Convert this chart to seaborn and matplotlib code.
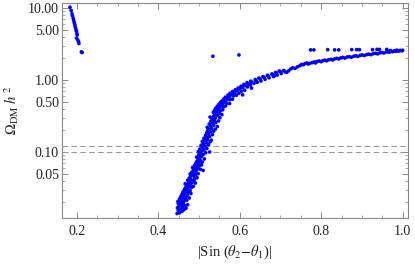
import numpy as np
import pandas as pd
import matplotlib
matplotlib.use("Agg")
import matplotlib.pyplot as plt
import matplotlib.ticker as mticker
import seaborn as sns

# ---- data ----
x_top = [0.183, 0.186, 0.188, 0.189, 0.191, 0.192, 0.193, 0.194, 0.195, 0.196, 0.197,
         0.198, 0.199, 0.200, 0.201, 0.199, 0.202, 0.204, 0.205, 0.211, 0.213]
y_top = [10.2, 9.2, 8.3, 7.8, 7.2, 6.8, 6.4, 6.1, 5.8, 5.4, 5.2,
         4.9, 4.7, 4.4, 4.2, 3.8, 3.6, 3.4, 3.2, 2.45, 2.40]

x_iso = [0.534, 0.598, 0.774, 0.782, 0.816, 0.833, 0.843, 0.875, 0.887, 0.894, 0.926, 0.937, 0.943, 0.961]
y_iso = [2.13, 2.22, 2.61, 2.61, 2.63, 2.61, 2.61, 2.63, 2.63, 2.63, 2.63, 2.65, 2.65, 2.65]

band_pts = [
    # y 0.013 - 0.02
    (0.446, 0.0140), (0.452, 0.0143), (0.458, 0.0150), (0.449, 0.0155), (0.455, 0.0162), (0.463, 0.0158),
    (0.447, 0.0168), (0.460, 0.0172), (0.468, 0.0166), (0.451, 0.0178), (0.457, 0.0183), (0.465, 0.0180),
    (0.472, 0.0185), (0.449, 0.0192), (0.454, 0.0198), (0.461, 0.0195),
    # y 0.02 - 0.03
    (0.448, 0.0205), (0.456, 0.0212), (0.463, 0.0208), (0.470, 0.0215), (0.452, 0.0222), (0.459, 0.0228),
    (0.466, 0.0224), (0.476, 0.0230), (0.455, 0.0240), (0.461, 0.0247), (0.469, 0.0243), (0.458, 0.0258),
    (0.464, 0.0262), (0.472, 0.0255), (0.480, 0.0265), (0.460, 0.0275), (0.467, 0.0282), (0.474, 0.0278),
    (0.463, 0.0292), (0.470, 0.0298), (0.478, 0.0290),
    # y 0.03 - 0.045
    (0.465, 0.0308), (0.472, 0.0315), (0.481, 0.0322), (0.468, 0.0330), (0.476, 0.0338), (0.486, 0.0333),
    (0.471, 0.0350), (0.479, 0.0358), (0.466, 0.0362), (0.474, 0.0372), (0.483, 0.0378), (0.491, 0.0370),
    (0.477, 0.0390), (0.486, 0.0398), (0.472, 0.0405), (0.480, 0.0415), (0.489, 0.0420), (0.476, 0.0432),
    (0.495, 0.0440),
    # y 0.045 - 0.07
    (0.479, 0.0455), (0.487, 0.0462), (0.483, 0.0478), (0.492, 0.0485), (0.478, 0.0495), (0.486, 0.0505),
    (0.498, 0.0500), (0.482, 0.0520), (0.490, 0.0530), (0.510, 0.0555), (0.485, 0.0545), (0.494, 0.0560),
    (0.488, 0.0580), (0.496, 0.0592), (0.503, 0.0575), (0.484, 0.0610), (0.492, 0.0625), (0.500, 0.0640),
    (0.489, 0.0655), (0.497, 0.0668), (0.506, 0.0660),
    # y 0.07 - 0.1
    (0.492, 0.0700), (0.500, 0.0715), (0.508, 0.0725), (0.495, 0.0745), (0.503, 0.0760), (0.498, 0.0790),
    (0.513, 0.0800), (0.502, 0.0830), (0.494, 0.0850), (0.506, 0.0870), (0.499, 0.0905), (0.510, 0.0920),
    (0.503, 0.0960), (0.516, 0.0975),
    # y 0.1 - 0.2
    (0.498, 0.1010), (0.507, 0.1030), (0.526, 0.1000), (0.512, 0.1070), (0.502, 0.1100), (0.519, 0.1120),
    (0.509, 0.1160), (0.515, 0.1210), (0.505, 0.1240), (0.523, 0.1260), (0.511, 0.1300), (0.518, 0.1350),
    (0.527, 0.1380), (0.508, 0.1400), (0.514, 0.1450), (0.521, 0.1490), (0.530, 0.1460), (0.512, 0.1550),
    (0.519, 0.1600), (0.526, 0.1640), (0.516, 0.1700), (0.523, 0.1760), (0.533, 0.1740), (0.519, 0.1840),
    (0.528, 0.1900), (0.521, 0.1960), (0.536, 0.1950),
    # y 0.2 - 0.35
    (0.524, 0.205), (0.531, 0.212), (0.540, 0.208), (0.520, 0.220), (0.528, 0.228), (0.536, 0.235),
    (0.545, 0.226), (0.525, 0.245), (0.533, 0.252), (0.541, 0.258), (0.529, 0.268), (0.537, 0.275),
    (0.548, 0.270), (0.532, 0.288), (0.540, 0.295), (0.551, 0.300), (0.527, 0.305), (0.536, 0.315),
    (0.545, 0.322), (0.539, 0.335), (0.549, 0.342), (0.556, 0.330),
    # y 0.35 - 0.5
    (0.535, 0.355), (0.543, 0.362), (0.552, 0.370), (0.538, 0.380), (0.547, 0.390), (0.558, 0.385),
    (0.541, 0.405), (0.551, 0.412), (0.560, 0.420), (0.545, 0.432), (0.555, 0.440), (0.565, 0.435),
    (0.549, 0.458), (0.558, 0.468), (0.568, 0.475), (0.553, 0.488), (0.562, 0.495), (0.575, 0.470),
    # y 0.5 - 0.75
    (0.556, 0.510), (0.566, 0.520), (0.575, 0.530), (0.561, 0.545), (0.570, 0.555), (0.582, 0.540),
    (0.565, 0.575), (0.575, 0.590), (0.585, 0.600), (0.571, 0.615), (0.580, 0.625), (0.592, 0.615),
    (0.576, 0.650), (0.587, 0.665), (0.598, 0.655), (0.582, 0.690), (0.593, 0.705), (0.604, 0.695),
    (0.589, 0.730), (0.600, 0.745), (0.612, 0.720), (0.607, 0.620), (0.629, 0.770),
    # y 0.75 - 1.0
    (0.596, 0.770), (0.607, 0.785), (0.619, 0.800), (0.603, 0.815), (0.614, 0.835), (0.626, 0.850),
    (0.610, 0.865), (0.622, 0.880), (0.635, 0.895), (0.618, 0.915), (0.630, 0.930), (0.643, 0.925),
    (0.627, 0.960), (0.640, 0.980), (0.652, 0.965),
    # y 1.0 - 1.45
    (0.638, 1.010), (0.650, 1.030), (0.662, 1.020), (0.647, 1.060), (0.660, 1.080), (0.672, 1.070),
    (0.657, 1.110), (0.670, 1.130), (0.683, 1.115), (0.668, 1.160), (0.680, 1.180), (0.692, 1.170),
    (0.679, 1.210), (0.690, 1.240), (0.702, 1.225), (0.688, 1.270), (0.700, 1.300), (0.712, 1.285),
    (0.697, 1.330), (0.708, 1.350), (0.720, 1.335), (0.685, 1.150), (0.715, 1.270),
    # thin band 0.72 - 1.0
    (0.725, 1.42), (0.730, 1.47), (0.736, 1.45), (0.742, 1.52), (0.748, 1.58), (0.752, 1.64),
    (0.756, 1.62), (0.760, 1.68), (0.765, 1.72), (0.768, 1.66), (0.772, 1.70), (0.778, 1.74),
    (0.783, 1.78), (0.786, 1.72), (0.790, 1.80), (0.795, 1.83), (0.800, 1.79), (0.804, 1.85),
    (0.809, 1.88), (0.813, 1.84), (0.818, 1.90), (0.824, 1.93), (0.828, 1.89), (0.833, 1.96),
    (0.838, 1.99), (0.843, 1.95), (0.848, 2.02), (0.853, 2.05), (0.858, 2.01), (0.864, 2.08),
    (0.869, 2.10), (0.874, 2.06), (0.880, 2.13), (0.885, 2.16), (0.890, 2.12), (0.896, 2.19),
    (0.901, 2.22), (0.906, 2.18), (0.912, 2.25), (0.917, 2.28), (0.922, 2.24), (0.928, 2.31),
    (0.933, 2.34), (0.938, 2.30), (0.944, 2.37), (0.949, 2.40), (0.954, 2.36), (0.960, 2.44),
    (0.963, 2.48), (0.967, 2.42), (0.971, 2.50), (0.975, 2.46), (0.979, 2.53), (0.983, 2.49),
    (0.987, 2.55), (0.990, 2.51), (0.994, 2.57), (0.998, 2.53), (1.000, 2.58), (0.970, 2.56),
    (0.985, 2.58),
]
x_band = [p[0] for p in band_pts]
y_band = [p[1] for p in band_pts]

relic_lines = [0.10, 0.12]
x_ticks = [0.2, 0.4, 0.6, 0.8, 1.0]
x_ticklabels = ["0.2", "0.4", "0.6", "0.8", "1.0"]
y_ticks = [0.05, 0.10, 0.50, 1.00, 5.00, 10.00]
y_ticklabels = ["0.05", "0.10", "0.50", "1.00", "5.00", "10.00"]

df = pd.DataFrame({
    "x": x_top + x_iso + x_band,
    "y": y_top + y_iso + y_band,
})

sns.set_style("ticks")
plt.rcParams["font.family"] = ["Liberation Serif", "DejaVu Serif"]
plt.rcParams["mathtext.fontset"] = "stix"

fig = plt.figure(figsize=(4.15, 2.65), dpi=100)
ax = fig.add_axes([0.149, 0.177, 0.834, 0.812])

for v in relic_lines:
    ax.axhline(v, color="#999999", lw=0.8, ls=(0, (5, 3)), zorder=1)

sns.scatterplot(data=df, x="x", y="y", ax=ax, color="#0000ff", s=7,
                linewidth=0, edgecolor="none", zorder=3, legend=False)

ax.set_yscale("log")
ax.set_xlim(0.163, 1.013)
ax.set_ylim(0.0121, 11.7)

ax.xaxis.set_major_locator(mticker.FixedLocator(x_ticks))
ax.xaxis.set_major_formatter(mticker.FixedFormatter(x_ticklabels))
ax.xaxis.set_minor_locator(mticker.MultipleLocator(0.05))
ax.yaxis.set_major_locator(mticker.FixedLocator(y_ticks))
ax.yaxis.set_major_formatter(mticker.FixedFormatter(y_ticklabels))
ax.yaxis.set_minor_locator(mticker.LogLocator(base=10, subs=np.arange(1, 10)))
ax.yaxis.set_minor_formatter(mticker.NullFormatter())

frame_col = "#888888"
for sp in ax.spines.values():
    sp.set_color(frame_col)
    sp.set_linewidth(0.8)
    sp.set_visible(True)
ax.tick_params(which="both", direction="in", top=True, right=True,
               color=frame_col, labelsize=10, labelcolor="#222222")
ax.tick_params(which="major", length=4, width=0.7)
ax.tick_params(which="minor", length=2, width=0.5)
ax.tick_params(axis="y", which="major", pad=2)
ax.tick_params(axis="x", which="major", pad=5)

ax.set_xlabel(r"|Sin ($\theta_2$$-$$\theta_1$)|", fontsize=10.5, color="#222222", labelpad=4)
ax.set_ylabel(r"$\Omega_{\rm DM}\ h^{\,2}$", fontsize=10.5, color="#222222", labelpad=5)

fig.savefig("out.png", dpi=100)
